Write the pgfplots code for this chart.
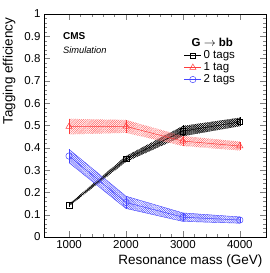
\documentclass[border=0pt]{standalone}
\usepackage{fontspec}
\setmainfont{Liberation Sans}
\usepackage{pgfplots}
\pgfplotsset{compat=1.18}
\usepgfplotslibrary{fillbetween}
\usetikzlibrary{patterns.meta}
\definecolor{cmsred}{RGB}{255,60,60}
\definecolor{cmsblue}{RGB}{70,70,255}
\begin{document}
\begin{tikzpicture}
\begin{axis}[
  scale only axis, width=222pt, height=223pt,
  xmin=560, xmax=4460, ymin=0, ymax=1,
  xtick={1000,2000,3000,4000}, minor x tick num=4,
  ytick={0,0.1,...,1.0}, minor y tick num=4,
  yticklabels={0,0.1,0.2,0.3,0.4,0.5,0.6,0.7,0.8,0.9,1},
  tick align=inside, tick pos=both,
  major tick length=6pt, minor tick length=3pt,
  /pgf/number format/assume math mode=true,
  /pgf/number format/1000 sep={},
  ticklabel style={font=\fontsize{11.5}{12}\selectfont},
  xlabel={Resonance mass (GeV)},
  ylabel={Tagging efficiency},
  label style={font=\fontsize{13.5}{14}\selectfont},
  xlabel style={at={(rel axis cs:1,0)}, anchor=north east, yshift=-14pt},
  ylabel style={at={(rel axis cs:0,1)}, anchor=south east, yshift=25pt},
  axis line style={line width=0.8pt},
  legend style={draw=none, fill=none, at={(rel axis cs:0.63,0.90)}, anchor=north west,
    font=\fontsize{11.5}{12}\selectfont, row sep=-1.5pt, inner sep=0pt},
  legend cell align=left,
  clip=true,
]
% bands 0 tags
\addplot[draw=none, name path=zu, forget plot] coordinates {(1000,0.148) (2000,0.363) (3000,0.498) (4000,0.535)};
\addplot[draw=none, name path=zl, forget plot] coordinates {(1000,0.138) (2000,0.337) (3000,0.452) (4000,0.497)};
\addplot[pattern={Lines[angle=45,distance=1.5pt,line width=0.5pt]}, pattern color=black, draw=none, forget plot] fill between[of=zu and zl];
\addplot[pattern={Lines[angle=-45,distance=1.5pt,line width=0.5pt]}, pattern color=black, draw=none, forget plot] fill between[of=zu and zl];
% bands 1 tag
\addplot[draw=none, name path=ou, forget plot] coordinates {(1000,0.530) (2000,0.525) (3000,0.453) (4000,0.428)};
\addplot[draw=none, name path=ol, forget plot] coordinates {(1000,0.460) (2000,0.467) (3000,0.408) (4000,0.388)};
\addplot[pattern={Lines[angle=45,distance=1.5pt,line width=0.5pt]}, pattern color=cmsred!80, draw=none, forget plot] fill between[of=ou and ol];
% bands 2 tags
\addplot[cmsblue, line width=0.4pt, name path=tu, forget plot] coordinates {(1000,0.393) (2000,0.183) (3000,0.108) (4000,0.090)};
\addplot[cmsblue, line width=0.4pt, name path=tl, forget plot] coordinates {(1000,0.333) (2000,0.128) (3000,0.070) (4000,0.062)};
\addplot[pattern={Lines[angle=-45,distance=1.5pt,line width=0.5pt]}, pattern color=cmsblue, draw=none, forget plot] fill between[of=tu and tl];

\addlegendimage{empty legend}
\addlegendentry{\hspace{-12pt}\textbf{G $\rightarrow$ bb}}
\addplot[black, line width=0.5pt, mark=square, mark size=2.8pt, mark options={fill=white},
  error bars/.cd, y dir=both, y explicit, error bar style={line width=0.5pt}, error mark=none]
  table[x=x, y=y, y error=e] {
x y e
1000 0.143 0.008
2000 0.350 0.015
3000 0.475 0.025
4000 0.516 0.020
};
\addlegendentry{0 tags}
\addplot[cmsred, line width=0.5pt, mark=triangle, mark size=3.6pt, mark options={fill=white},
  error bars/.cd, y dir=both, y explicit, error bar style={line width=0.5pt}, error mark=none]
  table[x=x, y=y, y error=e] {
x y e
1000 0.495 0.035
2000 0.496 0.029
3000 0.430 0.022
4000 0.408 0.020
};
\addlegendentry{1 tag}
\addplot[cmsblue, line width=0.5pt, mark=o, mark size=3.2pt, mark options={fill=white},
  error bars/.cd, y dir=both, y explicit, error bar style={line width=0.5pt}, error mark=none]
  table[x=x, y=y, y error=e] {
x y e
1000 0.363 0.030
2000 0.155 0.028
3000 0.089 0.019
4000 0.076 0.014
};
\addlegendentry{2 tags}
\node[anchor=north west, font=\bfseries\fontsize{10}{11}\selectfont] at (rel axis cs:0.07,0.935) {CMS};
\node[anchor=north west, font=\itshape\fontsize{9.3}{10}\selectfont] at (rel axis cs:0.07,0.87) {Simulation};
\node[anchor=south east, font=\fontsize{7.5}{8}\selectfont, inner sep=1pt] at (rel axis cs:1,1) {(8 TeV)};
\end{axis}
\pgfresetboundingbox
\path (-44pt,-36pt) rectangle (226pt,237pt);
\end{tikzpicture}
\end{document}
